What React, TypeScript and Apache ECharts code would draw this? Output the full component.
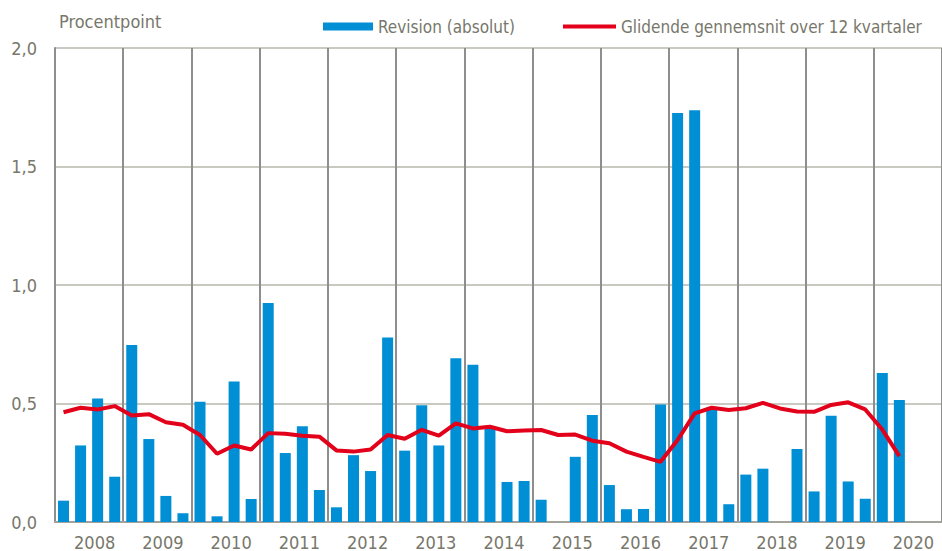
import React, { useEffect, useRef } from "react";
import * as echarts from "echarts";

const years = ["2008","2009","2010","2011","2012","2013","2014","2015","2016","2017","2018","2019","2020"];
const quarters = ["K1","K2","K3","K4"];

const revision: (number | null)[] = [
  0.090, 0.323, 0.521, 0.191,
  0.747, 0.350, 0.110, 0.037,
  0.507, 0.024, 0.593, 0.097,
  0.924, 0.291, 0.404, 0.135,
  0.062, 0.282, 0.215, 0.779,
  0.301, 0.493, 0.323, 0.691,
  0.663, 0.398, 0.169, 0.173,
  0.094, 0.000, 0.275, 0.451,
  0.156, 0.054, 0.055, 0.496,
  1.726, 1.737, 0.482, 0.075,
  0.200, 0.225, 0.000, 0.308,
  0.129, 0.448, 0.171, 0.098,
  0.629, 0.515, null, null,
];

const movingAvg: (number | null)[] = [
  0.463, 0.482, 0.475, 0.489,
  0.449, 0.455, 0.421, 0.410,
  0.367, 0.288, 0.323, 0.306,
  0.375, 0.372, 0.364, 0.360,
  0.302, 0.297, 0.306, 0.367,
  0.351, 0.389, 0.364, 0.416,
  0.395, 0.402, 0.383, 0.386,
  0.388, 0.367, 0.369, 0.343,
  0.332, 0.297, 0.275, 0.254,
  0.346, 0.458, 0.482, 0.473,
  0.480, 0.503, 0.479, 0.466,
  0.465, 0.494, 0.505, 0.475,
  0.390, 0.278, null, null,
];

const yTicks = [0, 0.5, 1.0, 1.5, 2.0];

const categories: string[] = [];
years.forEach((y) => quarters.forEach((q) => categories.push(y + " " + q)));

const FONT = "'Liberation Sans Narrow', 'DejaVu Sans Condensed', 'Liberation Sans', sans-serif";
const TEXT = "#77776b";
const BAR_NAME = "Revision (absolut)";
const LINE_NAME = "Glidende gennemsnit over 12 kvartaler";

export default function App() {
  const ref = useRef<HTMLDivElement>(null);
  useEffect(() => {
    if (!ref.current) return;
    const chart = echarts.init(ref.current, null, { renderer: "svg" });
    chart.setOption({
      animation: false,
      backgroundColor: "#ffffff",
      textStyle: { fontFamily: FONT },
      title: {
        text: "Procentpoint",
        left: 54,
        top: 7,
        textStyle: { fontFamily: FONT, fontSize: 18, fontWeight: "normal", color: TEXT },
      },
      legend: [
        {
          left: 318,
          top: 13,
          width: 300,
          itemWidth: 50,
          itemHeight: 8,
          textStyle: { fontFamily: FONT, fontSize: 17, color: TEXT },
          data: [{ name: BAR_NAME, icon: "rect" }],
        },
        {
          left: 558,
          top: 13,
          width: 400,
          itemWidth: 53,
          itemHeight: 4,
          textStyle: { fontFamily: FONT, fontSize: 17, color: TEXT },
          data: [{ name: LINE_NAME, icon: "rect" }],
        },
      ],
      grid: { left: 55, right: 0, top: 48, bottom: 28 },
      xAxis: {
        type: "category",
        data: categories,
        boundaryGap: true,
        axisLine: { show: true, lineStyle: { color: "#a3a39b", width: 2 } },
        axisTick: { show: false },
        axisLabel: {
          interval: (i: number) => i % 4 === 2,
          formatter: (v: string) => v.slice(0, 4),
          fontFamily: FONT,
          fontSize: 18,
          color: TEXT,
          margin: 11,
          padding: [0, 6, 0, 0],
        },
        splitLine: {
          show: true,
          interval: (i: number) => i % 4 === 0 && i > 0,
          lineStyle: { color: "#8e8e8e", width: 2 },
        },
      },
      yAxis: {
        type: "value",
        min: yTicks[0],
        max: yTicks[yTicks.length - 1],
        interval: 0.5,
        axisLine: { show: true, lineStyle: { color: "#8e8e8e", width: 2 } },
        axisTick: { show: false },
        axisLabel: {
          formatter: (v: number) => v.toFixed(1).replace(".", ","),
          fontFamily: FONT,
          fontSize: 18,
          color: TEXT,
          margin: 18,
        },
        splitLine: { show: true, lineStyle: { color: "#c9c9c1", width: 2 } },
      },
      series: [
        {
          name: BAR_NAME,
          type: "bar",
          data: revision,
          barWidth: 11,
          itemStyle: { color: "#008fd5" },
          z: 2,
        },
        {
          name: LINE_NAME,
          type: "line",
          data: movingAvg,
          symbol: "none",
          showSymbol: false,
          lineStyle: { color: "#e2001a", width: 4 },
          itemStyle: { color: "#e2001a" },
          z: 3,
        },
      ],
    });
    return () => chart.dispose();
  }, []);
  return (
    <div
      ref={ref}
      style={{ position: "fixed", left: 0, top: 0, width: 942, height: 551 }}
    />
  );
}
